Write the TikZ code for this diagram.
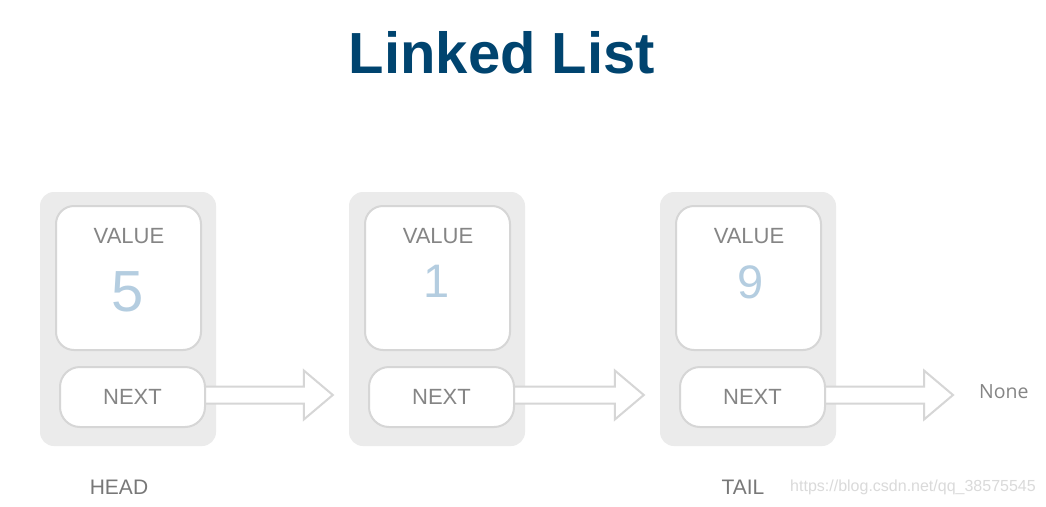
\documentclass[tikz,border=0pt]{standalone}
\usepackage{fontspec}
\setmainfont{Liberation Sans}
\newfontfamily\nonefont{Open Sans}
\usetikzlibrary{calc}
\definecolor{titleblue}{HTML}{00446F}
\definecolor{outerfill}{HTML}{EBEBEB}
\definecolor{boxline}{HTML}{D6D6D6}
\definecolor{labelgray}{HTML}{858585}
\definecolor{numblue}{HTML}{B4CDE0}
\definecolor{wmgray}{HTML}{DADADA}
\tikzset{
  outerbox/.style={fill=outerfill, draw=none, rounded corners=14pt, minimum width=176pt, minimum height=254pt, inner sep=0pt},
  valuebox/.style={fill=white, draw=boxline, line width=2pt, rounded corners=18pt, minimum width=145pt, minimum height=144pt, inner sep=0pt},
  nextbox/.style={fill=white, draw=boxline, line width=2pt, rounded corners=20pt, minimum width=145pt, minimum height=60pt, inner sep=0pt, text=labelgray, font=\fontsize{22}{26}\selectfont},
  lbl/.style={text=labelgray, font=\fontsize{22}{26}\selectfont, inner sep=0pt},
  bottomlbl/.style={text=labelgray!90!black, font=\fontsize{21}{25}\selectfont, inner sep=0pt},
  bignum/.style={text=numblue, inner sep=0pt},
  arrowline/.style={fill=white, draw=boxline, line width=2pt, line join=miter},
}
\newcommand{\hollowarrow}[2]{%
  \draw[arrowline] ($(#1)+(0,-8.5)$) -- ($(#2)+(-29,-8.5)$) -- ($(#2)+(-29,-24.5)$) -- (#2)
    -- ($(#2)+(-29,24.5)$) -- ($(#2)+(-29,8.5)$) -- ($(#1)+(0,8.5)$) -- cycle;}
\begin{document}
\begin{tikzpicture}[x=1pt,y=-1pt]
\useasboundingbox (0,0) rectangle (1046,506);
\fill[white] (0,0) rectangle (1046,506);
% title
\node[text=titleblue, font=\fontsize{58}{64}\selectfont\bfseries, inner sep=0pt] (title) at (502,53) {Linked List};
% outer boxes
\node[outerbox] (o1) at (128,319) {};
\node[outerbox] (o2) at (437,319) {};
\node[outerbox] (o3) at (748,319) {};
% None text
\node[text=labelgray, font=\nonefont\fontsize{19.5}{22}\selectfont, anchor=west, inner sep=0pt] (none) at (979,392) {None};
% next box positions
\coordinate (n1c) at (132.5,397);
\coordinate (n2c) at (441.5,397);
\coordinate (n3c) at (752.5,397);
\coordinate (s1) at (195,395);
\coordinate (s2) at (504,395);
\coordinate (s3) at (815,395);
\coordinate (t1) at ($(o2.west |- s1)+(-16,0)$);
\coordinate (t2) at ($(o3.west |- s2)+(-16,0)$);
\coordinate (t3) at ($(none.west |- s3)+(-26,0)$);
\hollowarrow{s1}{t1}
\hollowarrow{s2}{t2}
\hollowarrow{s3}{t3}
% value boxes
\node[valuebox] (v1) at (128.5,278) {};
\node[valuebox] (v2) at (437.5,278) {};
\node[valuebox] (v3) at (748.5,278) {};
\node[lbl] (vl1) at (129,236) {VALUE};
\node[lbl] (vl2) at (438,236) {VALUE};
\node[lbl] (vl3) at (749,236) {VALUE};
\node[bignum, font=\fontsize{58}{64}\selectfont] (num1) at (128,292) {5};
\node[bignum, font=\fontsize{47}{52}\selectfont] (num2) at (437,281) {1};
\node[bignum, font=\fontsize{47}{52}\selectfont] (num3) at (751,282) {9};
% next boxes
\node[nextbox] (n1) at (n1c) {NEXT};
\node[nextbox] (n2) at (n2c) {NEXT};
\node[nextbox] (n3) at (n3c) {NEXT};
% labels
\node[bottomlbl] (head) at (119,487) {HEAD};
\node[bottomlbl] (tail) at (743,487) {TAIL};
\node[text=wmgray, font=\fontsize{16}{19}\selectfont, inner sep=0pt] (wm) at (913,487) {https://blog.csdn.net/qq\_38575545};
\end{tikzpicture}
\end{document}
